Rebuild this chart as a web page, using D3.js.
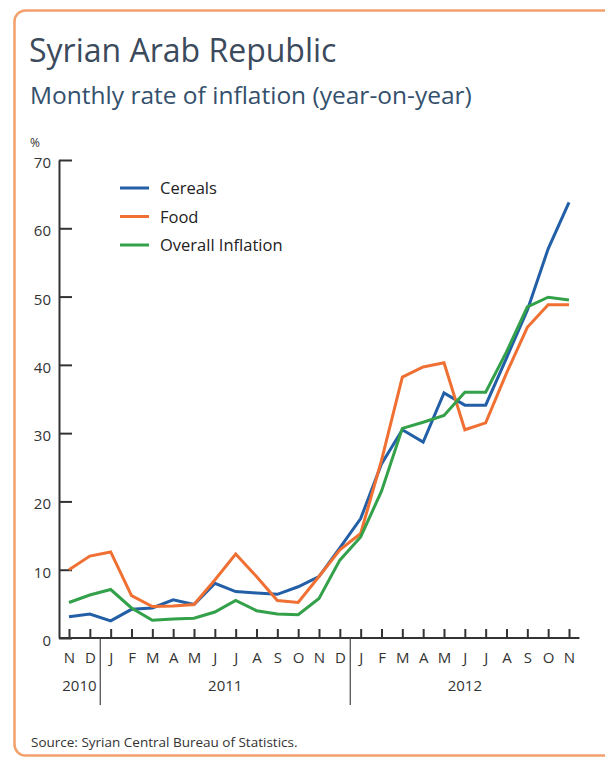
<!DOCTYPE html>
<html>
<head>
<meta charset="utf-8">
<script src="https://cdn.jsdelivr.net/npm/d3@7"></script>
<style>
  html, body { margin: 0; padding: 0; background: #fff; }
  svg { display: block; }
  text { font-family: "Open Sans", "Noto Sans", sans-serif; }
</style>
</head>
<body>
<script>
// ---- data ----
const months = ["N","D","J","F","M","A","M","J","J","A","S","O","N","D","J","F","M","A","M","J","J","A","S","O","N"];
const years = ["2010", "2011", "2012"];
const yearStart = [0, 2, 14];
const yearEnd = [1, 13, 24];
const cereals = [3.1, 3.5, 2.5, 4.2, 4.4, 5.6, 4.9, 8.0, 6.8, 6.6, 6.4, 7.5, 9.0, 13.2, 17.5, 25.5, 30.5, 28.7, 35.9, 34.1, 34.1, 41.0, 48.0, 57.0, 63.8];
const food = [10.0, 12.0, 12.6, 6.2, 4.6, 4.7, 4.9, 8.5, 12.3, 9.0, 5.5, 5.2, 9.0, 12.9, 15.3, 26.0, 38.2, 39.7, 40.3, 30.5, 31.5, 38.8, 45.5, 48.8, 48.8];
const overall = [5.2, 6.3, 7.1, 4.4, 2.6, 2.8, 2.9, 3.8, 5.5, 4.0, 3.5, 3.4, 5.8, 11.4, 14.8, 21.5, 30.7, 31.6, 32.6, 36.0, 36.0, 41.9, 48.5, 49.9, 49.5];
const yTicks = [0, 10, 20, 30, 40, 50, 60, 70];
const seriesNames = ["Cereals", "Food", "Overall Inflation"];
const seriesColors = ["#235fa6", "#ef7032", "#33a04a"];
const series = [cereals, food, overall];

// ---- layout ----
const W = 605, H = 760;
const svg = d3.select("body").append("svg").attr("width", W).attr("height", H);

// border
svg.append("rect")
  .attr("x", 14.5).attr("y", 10.5).attr("width", W + 20).attr("height", 745)
  .attr("rx", 11).attr("ry", 11)
  .attr("fill", "#fff").attr("stroke", "#f2a06c").attr("stroke-width", 2.5);

// titles
svg.append("text").attr("x", 29).attr("y", 62)
  .attr("font-size", 32).attr("fill", "#3b4a5c").text("Syrian Arab Republic");
svg.append("text").attr("x", 30).attr("y", 104)
  .attr("font-size", 24.5).attr("fill", "#34506c").text("Monthly rate of inflation (year-on-year)");
svg.append("text").attr("x", 30).attr("y", 147)
  .attr("font-size", 12).attr("fill", "#333").text("%");

const x = d3.scaleLinear().domain([0, months.length - 1]).range([69, 569]);
const y = d3.scaleLinear().domain([0, 70]).range([638, 160]);

// y axis
const yAxis = svg.append("g").attr("transform", "translate(59,0)")
  .call(d3.axisLeft(y).tickValues(yTicks).tickSize(-13).tickSizeOuter(0).tickPadding(8));
yAxis.select(".domain").attr("stroke", "#333").attr("stroke-width", 2);
yAxis.selectAll(".tick line").attr("stroke", "#333").attr("stroke-width", 2);
yAxis.selectAll(".tick text").attr("font-size", 15).attr("fill", "#333").attr("dy", "0.5em")
  .style("font-family", "'Open Sans', sans-serif");

// x axis
const xAxis = svg.append("g").attr("transform", "translate(0,638)")
  .call(d3.axisBottom(x).tickValues(d3.range(months.length)).tickSize(-9).tickSizeOuter(0)
    .tickPadding(14).tickFormat(i => months[i]));
xAxis.select(".domain").remove();
xAxis.selectAll(".tick line").attr("stroke", "#333").attr("stroke-width", 2);
xAxis.selectAll(".tick text").attr("font-size", 15).attr("fill", "#333")
  .style("font-family", "'Open Sans', sans-serif");
svg.append("line")
  .attr("x1", x(-0.48)).attr("x2", x(24.5))
  .attr("y1", 638).attr("y2", 638)
  .attr("stroke", "#333").attr("stroke-width", 2);

// year separators
[1.5, 13.5].forEach(v => {
  svg.append("line").attr("x1", x(v)).attr("x2", x(v)).attr("y1", 638).attr("y2", 705)
    .attr("stroke", "#444").attr("stroke-width", 1.2);
});
years.forEach((yr, i) => {
  svg.append("text").attr("x", (x(yearStart[i]) + x(yearEnd[i])) / 2).attr("y", 691)
    .attr("text-anchor", "middle").attr("font-size", 15).attr("fill", "#333").text(yr);
});

// lines
const line = d3.line().x((d, i) => x(i)).y(d => y(d));
series.forEach((s, k) => {
  svg.append("path").datum(s).attr("d", line)
    .attr("fill", "none").attr("stroke", seriesColors[k]).attr("stroke-width", 3)
    .attr("stroke-linejoin", "miter");
});

// legend
seriesNames.forEach((n, k) => {
  const ly = 188 + k * 28.5;
  svg.append("line").attr("x1", 120).attr("x2", 149).attr("y1", ly).attr("y2", ly)
    .attr("stroke", seriesColors[k]).attr("stroke-width", 3);
  svg.append("text").attr("x", 160).attr("y", ly + 6).attr("font-size", 16.5).attr("fill", "#222").text(n);
});

// source
svg.append("text").attr("x", 31).attr("y", 747)
  .attr("font-size", 13.5).attr("fill", "#333").text("Source: Syrian Central Bureau of Statistics.");
</script>
</body>
</html>
